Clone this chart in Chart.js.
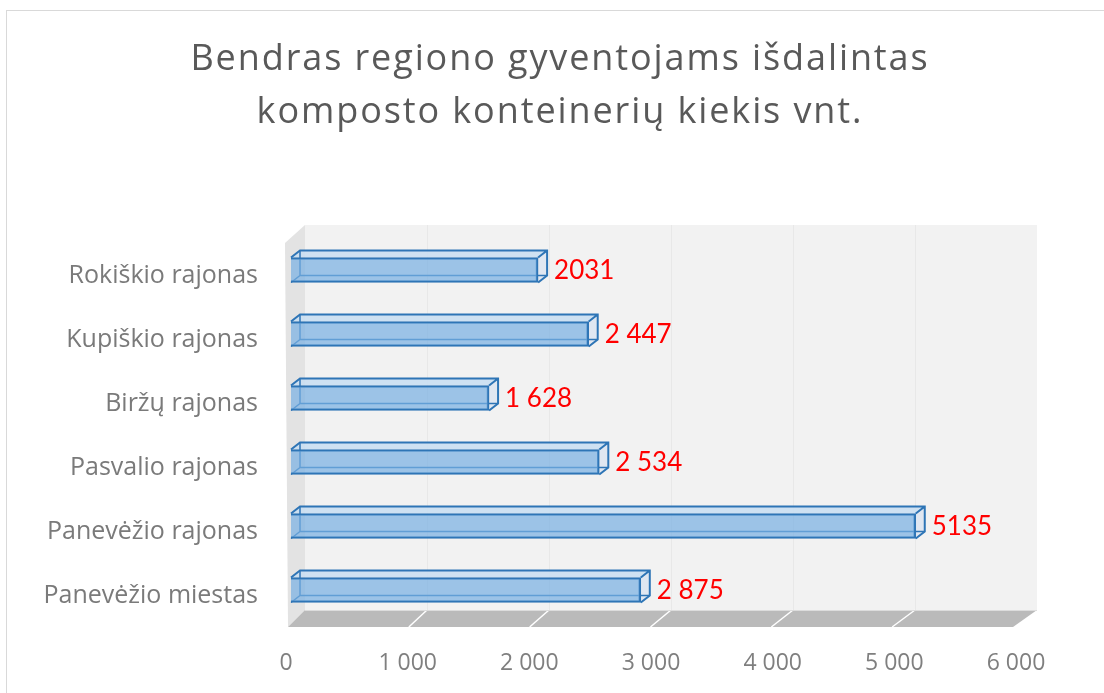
<!DOCTYPE html>
<html>
<head>
<meta charset="utf-8">
<script src="https://cdn.jsdelivr.net/npm/chart.js@4"></script>
<style>
  body { margin: 0; background: #fff; }
  canvas { display: block; }
</style>
</head>
<body>
<canvas id="myChart" width="1104" height="693"></canvas>
<script>
const titleLines = ["Bendras regiono gyventojams išdalintas", "komposto konteinerių kiekis vnt."];
const categories = ["Rokiškio rajonas", "Kupiškio rajonas", "Biržų rajonas", "Pasvalio rajonas", "Panevėžio rajonas", "Panevėžio miestas"];
const values = [2031, 2447, 1628, 2534, 5135, 2875];
const valueLabels = ["2031", "2 447", "1 628", "2 534", "5135", "2 875"];
const xTicks = [0, 1000, 2000, 3000, 4000, 5000, 6000];
const xTickLabels = ["0", "1 000", "2 000", "3 000", "4 000", "5 000", "6 000"];

const DX = 9, DY = -7;   // bar depth offset

// back wall, side wall and floor of the 3D plot
const wallsPlugin = {
  id: "walls",
  beforeDraw(chart) {
    const { ctx, chartArea: a } = chart;
    ctx.save();
    ctx.fillStyle = "#fff";
    ctx.fillRect(0, 0, chart.width, chart.height);
    // outer frame
    ctx.strokeStyle = "#d9d9d9";
    ctx.lineWidth = 1;
    ctx.strokeRect(6.5, 10.5, 1200, 800);

    const backL = a.left + 14, backR = a.right + 16;
    const backT = a.top - 13, backB = a.bottom - 12;
    const frontL = a.left - 3, frontR = a.right - 8, frontB = a.bottom + 5;
    const backX = v => backL + (backR - backL) * v / 6000;
    const frontX = v => frontL + (frontR - frontL) * v / 6000;

    // back wall
    ctx.fillStyle = "#f2f2f2";
    ctx.fillRect(backL, backT, backR - backL, backB - backT);
    ctx.strokeStyle = "#e8e8e8";
    xTicks.forEach(v => {
      if (v === 0 || v === 6000) return;
      ctx.beginPath();
      ctx.moveTo(Math.round(backX(v)) + 0.5, backT);
      ctx.lineTo(Math.round(backX(v)) + 0.5, backB);
      ctx.stroke();
    });
    // left side wall
    ctx.fillStyle = "#e3e3e3";
    ctx.beginPath();
    ctx.moveTo(frontL - 3, backT + 18);
    ctx.lineTo(backL, backT);
    ctx.lineTo(backL, backB);
    ctx.lineTo(frontL, frontB);
    ctx.closePath();
    ctx.fill();
    // floor
    ctx.fillStyle = "#bababa";
    ctx.beginPath();
    ctx.moveTo(backL, backB);
    ctx.lineTo(backR, backB);
    ctx.lineTo(frontR, frontB);
    ctx.lineTo(frontL, frontB);
    ctx.closePath();
    ctx.fill();
    ctx.strokeStyle = "#ffffff";
    ctx.lineWidth = 1.5;
    xTicks.forEach(v => {
      if (v === 0 || v === 6000) return;
      ctx.beginPath();
      ctx.moveTo(backX(v), backB);
      ctx.lineTo(frontX(v), frontB);
      ctx.stroke();
    });
    ctx.lineWidth = 1;
    ctx.strokeStyle = "#dcdcdc";
    ctx.beginPath();
    ctx.moveTo(backL, backB + 0.5);
    ctx.lineTo(backR, backB + 0.5);
    ctx.stroke();

    // title
    ctx.fillStyle = "#595959";
    ctx.font = "36px 'Open Sans'";
    ctx.letterSpacing = "1.9px";
    ctx.textAlign = "center";
    ctx.textBaseline = "alphabetic";
    ctx.fillText(titleLines[0], 560, 70);
    ctx.fillText(titleLines[1], 560, 123);
    ctx.restore();
  },
  // top and side faces plus the hidden edges, drawn under the front face
  beforeDatasetsDraw(chart) {
    const { ctx } = chart;
    ctx.save();
    chart.getDatasetMeta(0).data.forEach(bar => {
      const x0 = bar.base, x1 = bar.x;
      const t = bar.y - bar.height / 2, b = bar.y + bar.height / 2;
      // top face
      ctx.fillStyle = "rgba(200, 222, 242, 0.85)";
      ctx.beginPath();
      ctx.moveTo(x0, t); ctx.lineTo(x0 + DX, t + DY);
      ctx.lineTo(x1 + DX, t + DY); ctx.lineTo(x1, t);
      ctx.closePath(); ctx.fill();
      // right face
      ctx.fillStyle = "rgba(222, 230, 240, 0.95)";
      ctx.beginPath();
      ctx.moveTo(x1, t); ctx.lineTo(x1 + DX, t + DY);
      ctx.lineTo(x1 + DX, b + DY); ctx.lineTo(x1, b);
      ctx.closePath(); ctx.fill();
      // hidden back edges
      ctx.strokeStyle = "#2e75b6";
      ctx.lineWidth = 1.5;
      ctx.beginPath();
      ctx.moveTo(x0 + DX, t + DY); ctx.lineTo(x0 + DX, b + DY);
      ctx.lineTo(x1 + DX, b + DY);
      ctx.moveTo(x0, b); ctx.lineTo(x0 + DX, b + DY);
      ctx.stroke();
      // visible outline of top and side
      ctx.lineWidth = 2;
      ctx.beginPath();
      ctx.moveTo(x0, t); ctx.lineTo(x0 + DX, t + DY);
      ctx.lineTo(x1 + DX, t + DY); ctx.lineTo(x1 + DX, b + DY);
      ctx.lineTo(x1, b);
      ctx.moveTo(x1, t); ctx.lineTo(x1 + DX, t + DY);
      ctx.stroke();
    });
    ctx.restore();
  },
  afterDatasetsDraw(chart) {
    const { ctx } = chart;
    ctx.save();
    ctx.fillStyle = "#ff0000";
    ctx.font = "26px Lato";
    ctx.textAlign = "left";
    ctx.textBaseline = "middle";
    chart.getDatasetMeta(0).data.forEach((bar, i) => {
      ctx.fillText(valueLabels[i], bar.x + DX + 7, bar.y + 1);
    });
    ctx.restore();
  }
};

const ctx = document.getElementById("myChart");

new Chart(ctx, {
  type: "bar",
  data: {
    labels: categories,
    datasets: [
      {
        data: values,
        backgroundColor: "rgba(120, 175, 226, 0.7)",
        borderColor: "#2e75b6",
        borderWidth: 2,
        barThickness: 25,
      },
    ],
  },
  options: {
    indexAxis: "y",
    responsive: false,
    animation: false,
    layout: {
      padding: { top: 238, right: 83, bottom: 0, left: 0 },
    },
    scales: {
      x: {
        min: 0,
        max: 6000,
        afterBuildTicks: axis => { axis.ticks = xTicks.map(v => ({ value: v })); },
        grid: { display: false },
        border: { display: false },
        ticks: {
          callback: (v, i) => xTickLabels[i],
          color: "#7f7f7f",
          font: { family: "Open Sans", size: 23 },
          padding: 20,
          labelOffset: -5,
          maxRotation: 0,
        },
        afterFit: scale => { scale.height = 71; },
      },
      y: {
        grid: { display: false },
        border: { display: false },
        ticks: {
          color: "#7a7a7a",
          font: { family: "Open Sans", size: 25 },
          padding: 25,
          labelOffset: 6,
        },
        afterFit: scale => { scale.width = 291; },
      },
    },
    plugins: {
      legend: { display: false },
      tooltip: { enabled: false },
    },
  },
  plugins: [wallsPlugin],
});
</script>
</body>
</html>
